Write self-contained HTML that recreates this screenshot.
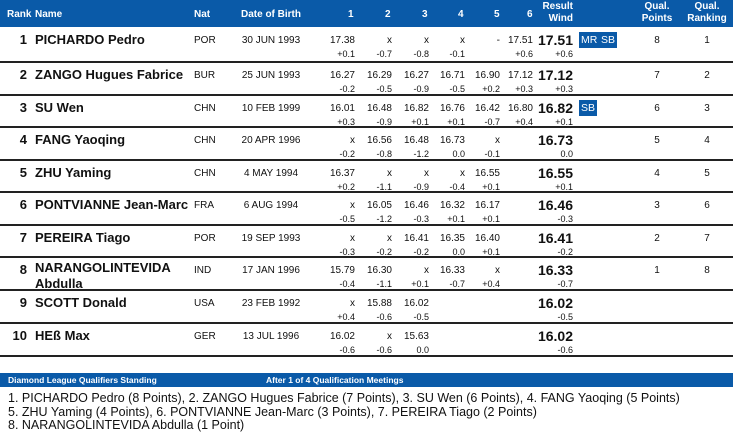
<!DOCTYPE html>
<html><head><meta charset="utf-8"><style>
body{margin:0;width:733px;height:437px;background:#fff;font-family:"Liberation Sans",sans-serif;color:#111;position:relative;overflow:hidden}
.a{position:absolute;white-space:nowrap}
.hd{position:absolute;left:0;top:0;width:733px;height:27px;background:#0a5aa8;color:#fff;font-weight:bold;font-size:10px}
.row{position:absolute;left:0;width:733px;height:33px}
.sep{position:absolute;left:0;width:733px;height:2px;background:#222}
.r{position:absolute;width:40px;text-align:right;font-size:10px;top:7px}
.w{position:absolute;width:40px;text-align:right;font-size:9px;top:21px}
.rk{position:absolute;left:0;width:27px;text-align:right;font-weight:bold;font-size:13px;top:4px}
.nm{position:absolute;left:35px;font-weight:bold;font-size:13px;top:4px;line-height:16px}
.nat{position:absolute;left:194px;font-size:10px;top:7px}
.dob{position:absolute;left:241px;width:60px;text-align:center;font-size:10px;top:7px}
.res{position:absolute;left:523px;width:50px;text-align:right;font-weight:bold;font-size:14px;top:4px}
.b{position:absolute;top:4px;background:#0a5aa8;color:#fff;font-size:10.5px;padding:1px 2px;height:14px;line-height:14px}
.qp{position:absolute;left:637px;width:40px;text-align:center;font-size:10px;top:7px}
.qr{position:absolute;left:687px;width:40px;text-align:center;font-size:10px;top:7px}
</style></head><body>
<div class="hd">
<span class="a" style="left:7px;top:9px">Rank</span>
<span class="a" style="left:35px;top:9px">Name</span>
<span class="a" style="left:194px;top:9px">Nat</span>
<span class="a" style="left:241px;top:9px">Date of Birth</span>
<span class="a" style="left:348px;top:9px">1</span>
<span class="a" style="left:385px;top:9px">2</span>
<span class="a" style="left:422px;top:9px">3</span>
<span class="a" style="left:458px;top:9px">4</span>
<span class="a" style="left:494px;top:9px">5</span>
<span class="a" style="left:527px;top:9px">6</span>
<span class="a" style="left:540px;top:1px;width:33px;text-align:right;line-height:12px">Result<br>Wind</span>
<span class="a" style="left:637px;top:1px;width:40px;text-align:center;line-height:12px">Qual.<br>Points</span>
<span class="a" style="left:687px;top:1px;width:40px;text-align:center;line-height:12px">Qual.<br>Ranking</span>
</div>

<div class="row" style="top:28px"><span class="rk">1</span><span class="nm">PICHARDO Pedro</span><span class="nat">POR</span><span class="dob">30 JUN 1993</span>
<span class="r" style="left:315px">17.38</span><span class="r" style="left:352px">x</span><span class="r" style="left:389px">x</span><span class="r" style="left:425px">x</span><span class="r" style="left:460px">-</span><span class="r" style="left:493px">17.51</span>
<span class="w" style="left:315px">+0.1</span><span class="w" style="left:352px">-0.7</span><span class="w" style="left:389px">-0.8</span><span class="w" style="left:425px">-0.1</span><span class="w" style="left:493px">+0.6</span>
<span class="res">17.51</span><span class="w" style="left:533px">+0.6</span><span class="b" style="left:579px">MR</span><span class="b" style="left:599px">SB</span><span class="qp">8</span><span class="qr">1</span></div>
<div class="sep" style="top:61px"></div>

<div class="row" style="top:63px"><span class="rk">2</span><span class="nm">ZANGO Hugues Fabrice</span><span class="nat">BUR</span><span class="dob">25 JUN 1993</span>
<span class="r" style="left:315px">16.27</span><span class="r" style="left:352px">16.29</span><span class="r" style="left:389px">16.27</span><span class="r" style="left:425px">16.71</span><span class="r" style="left:460px">16.90</span><span class="r" style="left:493px">17.12</span>
<span class="w" style="left:315px">-0.2</span><span class="w" style="left:352px">-0.5</span><span class="w" style="left:389px">-0.9</span><span class="w" style="left:425px">-0.5</span><span class="w" style="left:460px">+0.2</span><span class="w" style="left:493px">+0.3</span>
<span class="res">17.12</span><span class="w" style="left:533px">+0.3</span><span class="qp">7</span><span class="qr">2</span></div>
<div class="sep" style="top:94px"></div>

<div class="row" style="top:96px"><span class="rk">3</span><span class="nm">SU Wen</span><span class="nat">CHN</span><span class="dob">10 FEB 1999</span>
<span class="r" style="left:315px">16.01</span><span class="r" style="left:352px">16.48</span><span class="r" style="left:389px">16.82</span><span class="r" style="left:425px">16.76</span><span class="r" style="left:460px">16.42</span><span class="r" style="left:493px">16.80</span>
<span class="w" style="left:315px">+0.3</span><span class="w" style="left:352px">-0.9</span><span class="w" style="left:389px">+0.1</span><span class="w" style="left:425px">+0.1</span><span class="w" style="left:460px">-0.7</span><span class="w" style="left:493px">+0.4</span>
<span class="res">16.82</span><span class="w" style="left:533px">+0.1</span><span class="b" style="left:579px">SB</span><span class="qp">6</span><span class="qr">3</span></div>
<div class="sep" style="top:126px"></div>

<div class="row" style="top:128px"><span class="rk">4</span><span class="nm">FANG Yaoqing</span><span class="nat">CHN</span><span class="dob">20 APR 1996</span>
<span class="r" style="left:315px">x</span><span class="r" style="left:352px">16.56</span><span class="r" style="left:389px">16.48</span><span class="r" style="left:425px">16.73</span><span class="r" style="left:460px">x</span>
<span class="w" style="left:315px">-0.2</span><span class="w" style="left:352px">-0.8</span><span class="w" style="left:389px">-1.2</span><span class="w" style="left:425px">0.0</span><span class="w" style="left:460px">-0.1</span>
<span class="res">16.73</span><span class="w" style="left:533px">0.0</span><span class="qp">5</span><span class="qr">4</span></div>
<div class="sep" style="top:159px"></div>

<div class="row" style="top:161px"><span class="rk">5</span><span class="nm">ZHU Yaming</span><span class="nat">CHN</span><span class="dob">4 MAY 1994</span>
<span class="r" style="left:315px">16.37</span><span class="r" style="left:352px">x</span><span class="r" style="left:389px">x</span><span class="r" style="left:425px">x</span><span class="r" style="left:460px">16.55</span>
<span class="w" style="left:315px">+0.2</span><span class="w" style="left:352px">-1.1</span><span class="w" style="left:389px">-0.9</span><span class="w" style="left:425px">-0.4</span><span class="w" style="left:460px">+0.1</span>
<span class="res">16.55</span><span class="w" style="left:533px">+0.1</span><span class="qp">4</span><span class="qr">5</span></div>
<div class="sep" style="top:191px"></div>

<div class="row" style="top:193px"><span class="rk">6</span><span class="nm">PONTVIANNE Jean-Marc</span><span class="nat">FRA</span><span class="dob">6 AUG 1994</span>
<span class="r" style="left:315px">x</span><span class="r" style="left:352px">16.05</span><span class="r" style="left:389px">16.46</span><span class="r" style="left:425px">16.32</span><span class="r" style="left:460px">16.17</span>
<span class="w" style="left:315px">-0.5</span><span class="w" style="left:352px">-1.2</span><span class="w" style="left:389px">-0.3</span><span class="w" style="left:425px">+0.1</span><span class="w" style="left:460px">+0.1</span>
<span class="res">16.46</span><span class="w" style="left:533px">-0.3</span><span class="qp">3</span><span class="qr">6</span></div>
<div class="sep" style="top:224px"></div>

<div class="row" style="top:226px"><span class="rk">7</span><span class="nm">PEREIRA Tiago</span><span class="nat">POR</span><span class="dob">19 SEP 1993</span>
<span class="r" style="left:315px">x</span><span class="r" style="left:352px">x</span><span class="r" style="left:389px">16.41</span><span class="r" style="left:425px">16.35</span><span class="r" style="left:460px">16.40</span>
<span class="w" style="left:315px">-0.3</span><span class="w" style="left:352px">-0.2</span><span class="w" style="left:389px">-0.2</span><span class="w" style="left:425px">0.0</span><span class="w" style="left:460px">+0.1</span>
<span class="res">16.41</span><span class="w" style="left:533px">-0.2</span><span class="qp">2</span><span class="qr">7</span></div>
<div class="sep" style="top:256px"></div>

<div class="row" style="top:258px"><span class="rk">8</span><span class="nm" style="top:2px;line-height:16px">NARANGOLINTEVIDA<br>Abdulla</span><span class="nat">IND</span><span class="dob">17 JAN 1996</span>
<span class="r" style="left:315px">15.79</span><span class="r" style="left:352px">16.30</span><span class="r" style="left:389px">x</span><span class="r" style="left:425px">16.33</span><span class="r" style="left:460px">x</span>
<span class="w" style="left:315px">-0.4</span><span class="w" style="left:352px">-1.1</span><span class="w" style="left:389px">+0.1</span><span class="w" style="left:425px">-0.7</span><span class="w" style="left:460px">+0.4</span>
<span class="res">16.33</span><span class="w" style="left:533px">-0.7</span><span class="qp">1</span><span class="qr">8</span></div>
<div class="sep" style="top:289px"></div>

<div class="row" style="top:291px"><span class="rk">9</span><span class="nm">SCOTT Donald</span><span class="nat">USA</span><span class="dob">23 FEB 1992</span>
<span class="r" style="left:315px">x</span><span class="r" style="left:352px">15.88</span><span class="r" style="left:389px">16.02</span>
<span class="w" style="left:315px">+0.4</span><span class="w" style="left:352px">-0.6</span><span class="w" style="left:389px">-0.5</span>
<span class="res">16.02</span><span class="w" style="left:533px">-0.5</span></div>
<div class="sep" style="top:322px"></div>

<div class="row" style="top:324px"><span class="rk">10</span><span class="nm">HEß Max</span><span class="nat">GER</span><span class="dob">13 JUL 1996</span>
<span class="r" style="left:315px">16.02</span><span class="r" style="left:352px">x</span><span class="r" style="left:389px">15.63</span>
<span class="w" style="left:315px">-0.6</span><span class="w" style="left:352px">-0.6</span><span class="w" style="left:389px">0.0</span>
<span class="res">16.02</span><span class="w" style="left:533px">-0.6</span></div>
<div class="sep" style="top:355px"></div>

<div class="a" style="left:0;top:373px;width:733px;height:14px;background:#0a5aa8;color:#fff;font-weight:bold;font-size:8.5px">
<span class="a" style="left:8px;top:2px">Diamond League Qualifiers Standing</span>
<span class="a" style="left:266px;top:2px">After 1 of 4 Qualification Meetings</span>
</div>
<div class="a" style="left:8px;top:392px;font-size:12.5px;line-height:13.5px">1. PICHARDO Pedro (8 Points), 2. ZANGO Hugues Fabrice (7 Points), 3. SU Wen (6 Points), 4. FANG Yaoqing (5 Points)<br>5. ZHU Yaming (4 Points), 6. PONTVIANNE Jean-Marc (3 Points), 7. PEREIRA Tiago (2 Points)<br>8. NARANGOLINTEVIDA Abdulla (1 Point)</div>
</body></html>
